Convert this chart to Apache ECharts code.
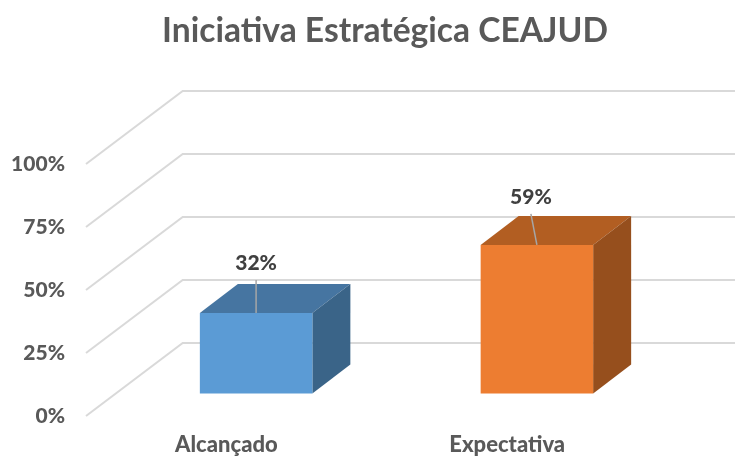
<!DOCTYPE html>
<html>
<head>
<meta charset="utf-8">
<title>Iniciativa Estratégica CEAJUD</title>
<script src="https://cdn.jsdelivr.net/npm/echarts@6/dist/echarts.min.js"></script>
<style>
  html, body { margin: 0; padding: 0; background: #fff; }
  #chart { width: 735px; height: 457px; }
</style>
</head>
<body>
<div id="chart"></div>
<script>
const titleText = "Iniciativa Estratégica CEAJUD";
const categories = ["Alcançado", "Expectativa"];
const values = [0.32, 0.59];
const ticks = [0, 0.25, 0.5, 0.75, 1];

// 3d look: how far the wall sits behind the front plane, and where the box sits in that depth
const WALL = [96.7, -73];
const BOX_NEAR = [29.7, -22.4];
const BOX_DEPTH = [38, -29];
const BAR_WIDTH = 112.5;
const LABEL_SHIFT = [[0, -33], [-6, -31]];
const barColors = [
  { front: "#5b9bd5", top: "#4675a1", side: "#3a6488" },
  { front: "#ed7d31", top: "#b25e22", side: "#964f1d" }
];
const FONT = "Lato, 'Open Sans', sans-serif";

function renderGrid(params, api) {
  const sys = params.coordSys;
  const p = api.coord([0, api.value(0)]);
  const y = p[1];
  return {
    type: "polyline",
    silent: true,
    shape: {
      points: [
        [sys.x, y],
        [sys.x + WALL[0], y + WALL[1]],
        [735, y + WALL[1]]
      ]
    },
    style: { fill: null, stroke: "#d9d9d9", lineWidth: 2 }
  };
}

function renderBox(params, api) {
  const i = api.value(0);
  const base = api.coord([i, 0]);
  const top = api.coord([i, api.value(1)]);
  const colors = barColors[i];
  const x0 = base[0] + BOX_NEAR[0] - BAR_WIDTH / 2;
  const x1 = x0 + BAR_WIDTH;
  const yb = base[1] + BOX_NEAR[1];
  const yt = top[1] + BOX_NEAR[1];
  const dx = BOX_DEPTH[0];
  const dy = BOX_DEPTH[1];
  const cx = (x0 + x1) / 2;
  const shift = LABEL_SHIFT[i];
  return {
    type: "group",
    children: [
      {
        type: "polygon",
        shape: { points: [[x0, yt], [x1, yt], [x1 + dx, yt + dy], [x0 + dx, yt + dy]] },
        style: { fill: colors.top }
      },
      {
        type: "polygon",
        shape: { points: [[x1, yt], [x1 + dx, yt + dy], [x1 + dx, yb + dy], [x1, yb]] },
        style: { fill: colors.side }
      },
      {
        type: "rect",
        shape: { x: x0, y: yt, width: BAR_WIDTH, height: yb - yt },
        style: { fill: colors.front }
      },
      {
        type: "line",
        shape: { x1: cx, y1: yt, x2: cx + shift[0], y2: yt + shift[1] },
        style: { stroke: "#a6a6a6", lineWidth: 1.5 }
      },
      {
        type: "text",
        x: cx + shift[0],
        y: yt + shift[1] - 17,
        style: {
          text: Math.round(api.value(1) * 100) + "%",
          fill: "#404040",
          font: "900 21px " + FONT,
          textAlign: "center",
          textVerticalAlign: "middle"
        }
      }
    ]
  };
}

const chart = echarts.init(document.getElementById("chart"), null, { renderer: "canvas" });
chart.setOption({
  animation: false,
  backgroundColor: "#fff",
  title: {
    text: titleText,
    left: 380,
    top: 9,
    textAlign: "center",
    textStyle: { color: "#595959", fontFamily: FONT, fontWeight: "bold", fontSize: 33.6 }
  },
  grid: { left: 86, right: 87.4, top: 164, bottom: 41 },
  xAxis: {
    type: "category",
    data: categories,
    axisLine: { show: false },
    axisTick: { show: false },
    axisLabel: { color: "#595959", fontFamily: FONT, fontWeight: 900, fontSize: 22, margin: 18 }
  },
  yAxis: {
    type: "value",
    min: 0,
    max: 1,
    interval: 0.25,
    axisLine: { show: false },
    axisTick: { show: false },
    splitLine: { show: false },
    axisLabel: {
      color: "#595959",
      fontFamily: FONT,
      fontWeight: 900,
      fontSize: 21,
      margin: 21,
      formatter: function (v) { return Math.round(v * 100) + "%"; }
    }
  },
  series: [
    {
      type: "custom",
      clip: false,
      silent: true,
      z: 1,
      data: ticks.map(function (t) { return [t]; }),
      encode: { y: 0 },
      renderItem: renderGrid
    },
    {
      type: "custom",
      clip: false,
      z: 2,
      data: values.map(function (v, i) { return [i, v]; }),
      encode: { x: 0, y: 1 },
      renderItem: renderBox
    }
  ]
});
</script>
</body>
</html>
